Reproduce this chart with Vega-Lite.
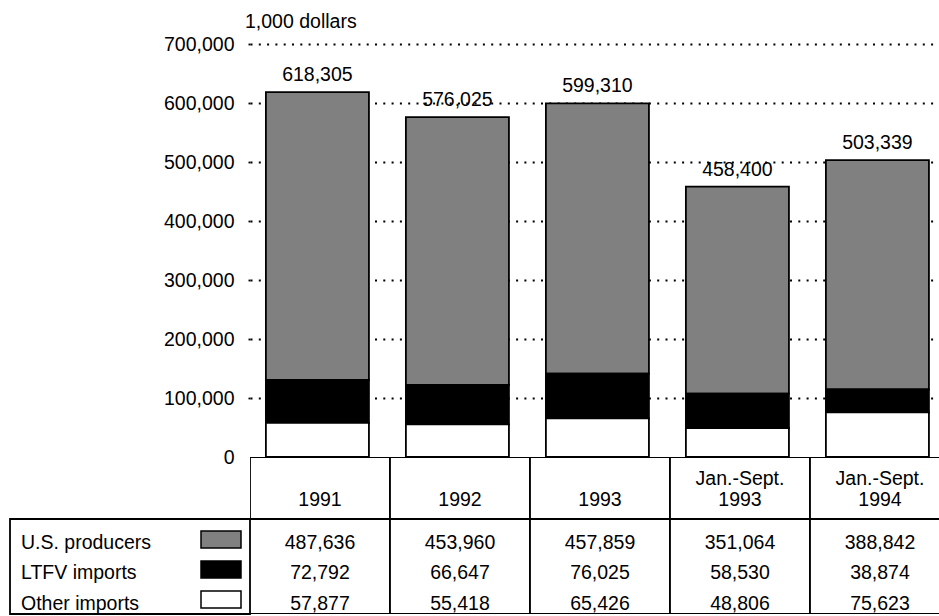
{
  "$schema": "https://vega.github.io/schema/vega-lite/v6.json",
  "background": "white",
  "padding": {"left": 9, "top": 11, "right": 0, "bottom": 0},
  "config": {
    "font": "Liberation Sans",
    "view": {"stroke": null},
    "text": {"font": "Liberation Sans", "fontSize": 19.5, "color": "black"},
    "axis": {"labelFont": "Liberation Sans", "labelFontSize": 19.5, "labelColor": "black"},
    "title": {"font": "Liberation Sans", "fontSize": 19.5, "fontWeight": "normal", "color": "black"}
  },
  "datasets": {
    "shares": [
      {"period": "1991", "series": "U.S. producers", "value": 487636},
      {"period": "1991", "series": "LTFV imports", "value": 72792},
      {"period": "1991", "series": "Other imports", "value": 57877},
      {"period": "1992", "series": "U.S. producers", "value": 453960},
      {"period": "1992", "series": "LTFV imports", "value": 66647},
      {"period": "1992", "series": "Other imports", "value": 55418},
      {"period": "1993", "series": "U.S. producers", "value": 457859},
      {"period": "1993", "series": "LTFV imports", "value": 76025},
      {"period": "1993", "series": "Other imports", "value": 65426},
      {"period": "Jan.-Sept. 1993", "series": "U.S. producers", "value": 351064},
      {"period": "Jan.-Sept. 1993", "series": "LTFV imports", "value": 58530},
      {"period": "Jan.-Sept. 1993", "series": "Other imports", "value": 48806},
      {"period": "Jan.-Sept. 1994", "series": "U.S. producers", "value": 388842},
      {"period": "Jan.-Sept. 1994", "series": "LTFV imports", "value": 38874},
      {"period": "Jan.-Sept. 1994", "series": "Other imports", "value": 75623}
    ],
    "periods": [
      {"period": "1991", "prefix": "", "year": "1991"},
      {"period": "1992", "prefix": "", "year": "1992"},
      {"period": "1993", "prefix": "", "year": "1993"},
      {"period": "Jan.-Sept. 1993", "prefix": "Jan.-Sept.", "year": "1993"},
      {"period": "Jan.-Sept. 1994", "prefix": "Jan.-Sept.", "year": "1994"}
    ],
    "series": [
      {"series": "U.S. producers"},
      {"series": "LTFV imports"},
      {"series": "Other imports"}
    ]
  },
  "concat": [
    {
      "width": 240,
      "height": 413,
      "data": {"values": []},
      "mark": "point"
    },
    {
      "width": 689,
      "height": 413,
      "data": {"name": "shares"},
      "title": {"text": "1,000 dollars", "anchor": "start", "frame": "group", "dx": -5, "offset": 2},
      "encoding": {
        "x": {
          "field": "period",
          "type": "nominal",
          "sort": null,
          "scale": {
            "type": "band",
            "domain": ["1991", "1992", "1993", "Jan.-Sept. 1993", "Jan.-Sept. 1994"],
            "range": [0, 700],
            "paddingInner": 0.264,
            "paddingOuter": 0.132,
            "align": 0.43
          },
          "axis": null
        }
      },
      "layer": [
        {
          "transform": [
            {"calculate": "indexof(['Other imports', 'LTFV imports', 'U.S. producers'], datum.series)", "as": "tier"}
          ],
          "mark": {"type": "bar", "stroke": "black", "strokeWidth": 1.8},
          "encoding": {
            "y": {
              "field": "value",
              "type": "quantitative",
              "stack": "zero",
              "scale": {"domain": [0, 700000], "nice": false},
              "axis": {
                "values": [0, 100000, 200000, 300000, 400000, 500000, 600000, 700000],
                "format": ",d",
                "title": null,
                "domain": false,
                "labelPadding": 11,
                "tickSize": 5,
                "tickColor": "black",
                "tickWidth": 1.8,
                "tickDash": [2, 6.3],
                "tickOpacity": {"condition": {"test": "datum.value === 0", "value": 0}, "value": 1},
                "grid": true,
                "gridColor": "black",
                "gridWidth": 1.8,
                "gridDash": [2, 6.3],
                "gridOpacity": {"condition": {"test": "datum.value === 0", "value": 0}, "value": 1}
              }
            },
            "order": {"field": "tier", "type": "quantitative"},
            "color": {
              "field": "series",
              "type": "nominal",
              "scale": {"domain": ["Other imports", "LTFV imports", "U.S. producers"], "range": ["#ffffff", "#000000", "#808080"]},
              "legend": null
            }
          }
        },
        {
          "mark": {"type": "text", "baseline": "middle", "dy": -17},
          "encoding": {
            "y": {
              "aggregate": "sum",
              "field": "value",
              "type": "quantitative",
              "axis": {
                "values": [0, 100000, 200000, 300000, 400000, 500000, 600000, 700000],
                "format": ",d",
                "title": null,
                "domain": false,
                "labelPadding": 11,
                "tickSize": 5,
                "tickColor": "black",
                "tickWidth": 1.8,
                "tickDash": [2, 6.3],
                "tickOpacity": {"condition": {"test": "datum.value === 0", "value": 0}, "value": 1},
                "grid": true,
                "gridColor": "black",
                "gridWidth": 1.8,
                "gridDash": [2, 6.3],
                "gridOpacity": {"condition": {"test": "datum.value === 0", "value": 0}, "value": 1}
              }
            },
            "text": {"aggregate": "sum", "field": "value", "type": "quantitative", "format": ","}
          }
        }
      ]
    },
    {
      "width": 240,
      "height": 62,
      "data": {"values": []},
      "mark": "point"
    },
    {
      "width": 689,
      "height": 62,
      "data": {"name": "periods"},
      "encoding": {
        "x": {
          "field": "period",
          "type": "nominal",
          "sort": null,
          "scale": {
            "type": "band",
            "domain": ["1991", "1992", "1993", "Jan.-Sept. 1993", "Jan.-Sept. 1994"],
            "range": [0, 700],
            "paddingInner": 0,
            "paddingOuter": 0
          },
          "axis": null
        }
      },
      "layer": [
        {"mark": {"type": "rect", "fill": "white", "stroke": "black", "strokeWidth": 1.8, "clip": true}},
        {
          "mark": {"type": "text", "baseline": "middle", "dy": -9},
          "encoding": {"text": {"field": "prefix"}}
        },
        {
          "mark": {"type": "text", "baseline": "middle", "dy": 12},
          "encoding": {"text": {"field": "year"}}
        }
      ]
    },
    {
      "width": 240,
      "height": 95,
      "data": {"name": "series"},
      "view": {"stroke": "black", "strokeWidth": 1.8},
      "encoding": {
        "y": {
          "field": "series",
          "type": "nominal",
          "scale": {"type": "point", "domain": ["U.S. producers", "LTFV imports", "Other imports"], "padding": 0.583, "align": 0.7},
          "axis": null
        }
      },
      "layer": [
        {
          "mark": {"type": "text", "align": "left", "baseline": "middle"},
          "encoding": {
            "x": {
              "datum": "name",
              "type": "nominal",
              "scale": {"type": "point", "domain": ["name", "key"], "padding": 0.1, "align": 0.275},
              "axis": null
            },
            "text": {"field": "series"}
          }
        },
        {
          "mark": {"type": "point", "shape": "M-1,-0.425H1V0.425H-1Z", "size": 1600, "filled": true, "opacity": 1, "stroke": "black", "strokeWidth": 1.5},
          "encoding": {
            "x": {"datum": "key", "type": "nominal"},
            "yOffset": {"value": -4},
            "fill": {
              "field": "series",
              "type": "nominal",
              "scale": {"domain": ["Other imports", "LTFV imports", "U.S. producers"], "range": ["#ffffff", "#000000", "#808080"]},
              "legend": null
            }
          }
        }
      ]
    },
    {
      "width": 689,
      "height": 95,
      "encoding": {
        "x": {
          "field": "period",
          "type": "nominal",
          "sort": null,
          "scale": {
            "type": "band",
            "domain": ["1991", "1992", "1993", "Jan.-Sept. 1993", "Jan.-Sept. 1994"],
            "range": [0, 700],
            "paddingInner": 0,
            "paddingOuter": 0
          },
          "axis": null
        }
      },
      "layer": [
        {
          "data": {"name": "periods"},
          "mark": {"type": "rect", "fill": "white", "stroke": "black", "strokeWidth": 1.8, "clip": true}
        },
        {
          "data": {"name": "shares"},
          "mark": {"type": "text", "baseline": "middle"},
          "encoding": {
            "y": {
              "field": "series",
              "type": "nominal",
              "scale": {"type": "point", "domain": ["U.S. producers", "LTFV imports", "Other imports"], "padding": 0.583, "align": 0.7},
              "axis": null
            },
            "text": {"field": "value", "type": "quantitative", "format": ","}
          }
        }
      ]
    }
  ],
  "columns": 2,
  "spacing": 0,
  "bounds": "flush",
  "align": "each",
  "resolve": {"scale": {"x": "independent", "y": "independent", "color": "independent", "fill": "independent"}}
}
